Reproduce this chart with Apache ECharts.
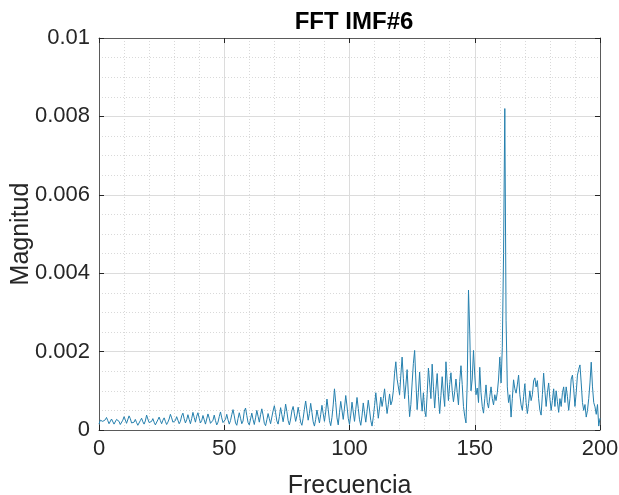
<!DOCTYPE html>
<html>
<head>
<meta charset="utf-8">
<script src="https://cdn.jsdelivr.net/npm/echarts@6/dist/echarts.min.js"></script>
<style>
html,body{margin:0;padding:0;background:#fff;}
#chart{width:619px;height:495px;}
</style>
</head>
<body>
<div id="chart"></div>
<script>
// Frequency sampling step (Hz) of the FFT bins
const paso = 0.5;
// Magnitudes, 0..49.5 Hz
const mag000 = [
0.00015,0.00025,0.0003,0.00022,0.00018,0.00026,0.00032,0.00024,0.00016,0.0002,0.00028,0.00023,0.00015,0.00019,0.00027,0.00031,0.00022,0.00014,0.00018,0.00025,
0.00034,0.00026,0.00017,0.00021,0.00036,0.00029,0.00018,0.00013,0.0002,0.00027,0.00019,0.00012,0.00016,0.00024,0.0003,0.00021,0.00015,0.00023,0.00038,0.00028,
0.00019,0.00014,0.00022,0.00029,0.0002,0.00013,0.00017,0.00026,0.00033,0.00024,0.00016,0.00025,0.00031,0.00022,0.00014,0.0002,0.00028,0.0004,0.00031,0.0002,
0.00015,0.00024,0.00034,0.00025,0.00016,0.00022,0.00036,0.00043,0.00029,0.00018,0.00026,0.00039,0.00027,0.00016,0.00029,0.00045,0.00032,0.0002,0.00035,0.00044,
0.0003,0.00018,0.00024,0.00037,0.00026,0.00015,0.00028,0.00041,0.0003,0.00017,0.00012,0.00025,0.00038,0.00024,0.00013,0.0002,0.00034,0.00046,0.00031,0.00019
];
// 50..99.5 Hz
const mag050 = [
0.00014,0.00027,0.0004,0.00026,0.00015,0.00024,0.00039,0.00052,0.00036,0.00018,0.00012,0.00029,0.00044,0.0003,0.00016,0.00023,0.00048,0.00056,0.00037,0.00019,
0.00013,0.00028,0.00043,0.00027,0.00014,0.00031,0.0005,0.00035,0.0002,0.00039,0.00054,0.00038,0.00017,0.00011,0.00026,0.00042,0.00029,0.00016,0.00033,0.00049,
0.00062,0.00044,0.00023,0.00015,0.00034,0.00057,0.00039,0.00021,0.0004,0.00066,0.00047,0.00024,0.00013,0.00028,0.00049,0.0006,0.00041,0.00022,0.00036,0.00058,
0.0004,0.0002,0.00012,0.0003,0.00053,0.00074,0.0005,0.00025,0.00042,0.00068,0.00045,0.00021,0.0001,0.00027,0.00051,0.00034,0.00018,0.00039,0.00063,0.00042,
0.00022,0.00046,0.00079,0.00053,0.00024,0.00011,0.00032,0.00064,0.00105,0.0007,0.00031,0.00013,0.00044,0.00073,0.0005,0.00027,0.00056,0.00088,0.00061,0.0003
];
// 100..149.5 Hz
const mag100 = [
0.00014,0.00038,0.00071,0.00046,0.00022,0.00052,0.00083,0.00055,0.00026,0.00012,0.00036,0.00069,0.00043,0.0002,0.00048,0.00076,0.00051,0.00024,0.0001,0.00033,
0.00062,0.00095,0.00063,0.0003,0.00056,0.00084,0.0006,0.0008,0.00105,0.00071,0.00042,0.00065,0.00092,0.00064,0.00074,0.001,0.00145,0.00174,0.0013,0.0011,
0.0009,0.0014,0.00186,0.00132,0.0008,0.00115,0.00154,0.0009,0.00034,0.00065,0.0012,0.0017,0.00203,0.00125,0.00052,0.00096,0.00148,0.00084,0.00048,0.00095,
0.0005,0.00034,0.0009,0.00158,0.0012,0.0008,0.00168,0.0011,0.00056,0.00104,0.00144,0.00085,0.00042,0.00088,0.00136,0.00092,0.0006,0.00174,0.00122,0.00075,
0.00116,0.00146,0.001,0.00072,0.00098,0.0013,0.00096,0.00064,0.00124,0.00164,0.00116,0.0006,0.00035,0.00018,0.0012,0.00357,0.0025,0.001,0.0013,0.00203
];
// 150..200 Hz
const mag150 = [
0.0014,0.0009,0.00107,0.0007,0.0016,0.00095,0.0006,0.00043,0.0008,0.00115,0.0007,0.00056,0.00085,0.0011,0.0008,0.00064,0.0009,0.00075,0.00095,0.0013,
0.00186,0.0012,0.0021,0.0045,0.0082,0.0028,0.0011,0.0007,0.0009,0.00033,0.0008,0.00128,0.00105,0.00094,0.00115,0.0014,0.0009,0.00064,0.0005,0.00085,
0.00118,0.0007,0.00042,0.00068,0.001,0.00075,0.0009,0.00125,0.00133,0.0011,0.00126,0.0008,0.0005,0.00038,0.0009,0.00145,0.001,0.0006,0.00095,0.0012,
0.0008,0.0005,0.00075,0.00105,0.0006,0.001,0.00072,0.00045,0.0008,0.0006,0.00095,0.0011,0.0007,0.0011,0.00085,0.0005,0.0008,0.0013,0.0014,0.00105,
0.0006,0.00095,0.0014,0.00155,0.00166,0.0012,0.0007,0.0005,0.00065,0.00033,0.0005,0.0008,0.0012,0.00173,0.0011,0.0007,0.00059,0.0004,0.00065,0.0001,
0.0003
];
const magnitud = mag000.concat(mag050, mag100, mag150);
const xTicks = [0, 50, 100, 150, 200];
const yTicks = [0, 0.002, 0.004, 0.006, 0.008, 0.01];

const serie = magnitud.map((v, i) => [i * paso, v]);

const FONT = 'Liberation Sans, Arial, Helvetica, sans-serif';
const axisColor = '#5a5a5a';
const chart = echarts.init(document.getElementById('chart'), null, {renderer: 'canvas'});

function baseX(extra) {
  return Object.assign({
    type: 'value', min: xTicks[0], max: xTicks[xTicks.length - 1], interval: 50,
    axisLine: {show: true, onZero: false, lineStyle: {color: axisColor, width: 1}},
    axisTick: {show: true, inside: true, length: 5, lineStyle: {color: '#262626'}},
    splitLine: {show: false},
    axisLabel: {show: false}
  }, extra);
}
function baseY(extra) {
  return Object.assign({
    type: 'value', min: yTicks[0], max: yTicks[yTicks.length - 1], interval: 0.002,
    axisLine: {show: true, onZero: false, lineStyle: {color: axisColor, width: 1}},
    axisTick: {show: true, inside: true, length: 5, lineStyle: {color: '#262626'}},
    splitLine: {show: false},
    axisLabel: {show: false}
  }, extra);
}

chart.setOption({
  animation: false,
  backgroundColor: '#ffffff',
  title: {
    text: 'FFT IMF#6', left: 349, top: 5, textAlign: 'center',
    textStyle: {fontFamily: FONT, fontSize: 24, fontWeight: 'bold', color: '#000'}
  },
  grid: {left: 99, right: 19, top: 38, bottom: 65, containLabel: false, outerBoundsMode: 'none'},
  xAxis: [
    baseX({
      position: 'bottom',
      name: 'Frecuencia', nameLocation: 'middle', nameGap: 44, nameMoveOverlap: false,
      nameTextStyle: {fontFamily: FONT, fontSize: 25, color: '#262626'},
      axisLabel: {show: true, margin: 8, fontFamily: FONT, fontSize: 22, color: '#262626'},
      splitLine: {show: true, lineStyle: {color: '#dcdcdc', width: 1}},
      minorTick: {show: false, splitNumber: 5},
      minorSplitLine: {show: true, lineStyle: {color: '#d9d9d9', width: 1, type: [1, 2]}}
    }),
    baseX({position: 'top'})
  ],
  yAxis: [
    baseY({
      position: 'left',
      name: 'Magnitud', nameLocation: 'middle', nameGap: 65, nameRotate: 90, nameMoveOverlap: false,
      nameTextStyle: {fontFamily: FONT, fontSize: 25, color: '#262626'},
      axisLabel: {show: true, margin: 9, fontFamily: FONT, fontSize: 22, color: '#262626'},
      splitLine: {show: true, lineStyle: {color: '#dcdcdc', width: 1}},
      minorTick: {show: false, splitNumber: 4},
      minorSplitLine: {show: true, lineStyle: {color: '#d9d9d9', width: 1, type: [1, 2]}}
    }),
    baseY({position: 'right'})
  ],
  series: [{
    type: 'line', data: serie, xAxisIndex: 0, yAxisIndex: 0,
    showSymbol: false, symbol: 'none',
    lineStyle: {color: '#2580ae', width: 1},
    itemStyle: {color: '#2580ae'}
  }]
});
</script>
</body>
</html>
